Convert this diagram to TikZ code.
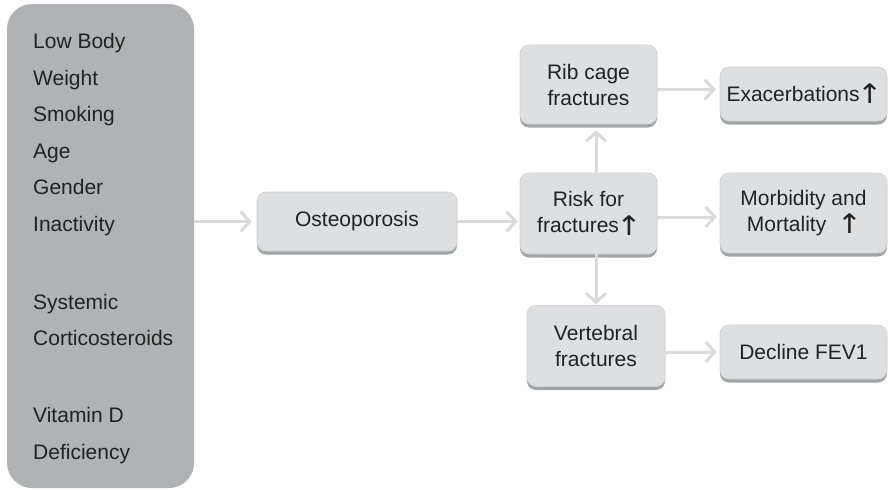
\documentclass[tikz,border=0pt]{standalone}
\usepackage{fontspec}
\usepackage{graphicx}
\setmainfont{Liberation Sans}
\newfontfamily\arrowfont{DejaVu Sans}
\usetikzlibrary{arrows.meta,shadows}

\definecolor{factorfill}{HTML}{B1B2B6}
\definecolor{boxfill}{HTML}{DEDFE1}
\definecolor{boxedge}{HTML}{CFCFD2}
\definecolor{boxshadow}{HTML}{A3A4A7}
\definecolor{flowgray}{HTML}{DADADA}
\definecolor{inkgray}{HTML}{222222}

% rising-trend mark after a label
\newcommand{\risemark}{\kern-2.5pt\raisebox{-2.5pt}{\scalebox{1.12}[1]{\arrowfont\fontsize{27}{27}\selectfont ↑}}\kern-2pt}

\begin{document}
\begin{tikzpicture}[x=1pt,y=-1pt,
  every node/.style={text=inkgray, font=\fontsize{21}{26}\selectfont},
  factorbox/.style={rectangle, rounded corners=25pt, fill=factorfill, inner sep=0pt},
  stagebox/.style={rectangle, rounded corners=9pt, fill=boxfill, draw=boxedge,
    line width=0.6pt, align=center, inner sep=0pt,
    drop shadow={shadow xshift=0pt, shadow yshift=-3.5pt, fill=boxshadow, opacity=1}},
  flow/.style={draw=flowgray, line width=3pt, -{Straight Barb[length=9pt,width=20pt]}}
]
\useasboundingbox (0,0) rectangle (889,491);

% risk factors column
\node[factorbox, minimum width=187pt, minimum height=484pt] (factors) at (100.5,246) {};
\node[anchor=base west, align=left, inner sep=0pt,
      font=\fontsize{21}{36.5}\selectfont] (factorlist) at (33,459)
  {Low Body\\Weight\\Smoking\\Age\\Gender\\Inactivity\\[41.5pt]
   Systemic\\Corticosteroids\\[40.5pt]Vitamin D\\Deficiency};

% stages and consequences
\node[stagebox, minimum width=200pt, minimum height=59pt] (osteo) at (357,221.5) {Osteoporosis};
\node[stagebox, minimum width=137pt, minimum height=79pt] (rib) at (588.5,84.5) {Rib cage\\fractures};
\node[stagebox, minimum width=167pt, minimum height=54pt] (exac) at (803.5,94) {Exacerbations\risemark};
\node[stagebox, minimum width=137pt, minimum height=81pt] (risk) at (588.5,213.5) {Risk for\\fractures\risemark};
\node[stagebox, minimum width=167pt, minimum height=80pt] (morb) at (803.5,213) {Morbidity and\\Mortality\hspace{13pt}\risemark};
\node[stagebox, minimum width=138pt, minimum height=81pt] (vert) at (596,346) {Vertebral\\fractures};
\node[stagebox, minimum width=167pt, minimum height=54pt] (decl) at (803.5,352) {Decline FEV1};

% connectors
\draw[flow] (factors.east |- osteo.west) -- ([xshift=-5pt]osteo.west);
\draw[flow] (osteo.east) -- ([xshift=-2pt]osteo.east -| risk.west);
\draw[flow] (vert.north |- risk.north) -- ([yshift=-6pt]vert.north |- rib.south);
\draw[flow] (vert.north |- risk.south) -- ([yshift=1pt]vert.north);
\draw[flow] ([yshift=-5pt]rib.east) -- ([yshift=-5pt,xshift=-4pt]rib.east -| exac.west);
\draw[flow] ([yshift=-3.5pt]risk.east) -- ([yshift=-3.5pt,xshift=-3pt]risk.east -| morb.west);
\draw[flow] ([yshift=-6pt]vert.east) -- ([yshift=-6pt,xshift=-3pt]vert.east -| decl.west);
\end{tikzpicture}
\end{document}
